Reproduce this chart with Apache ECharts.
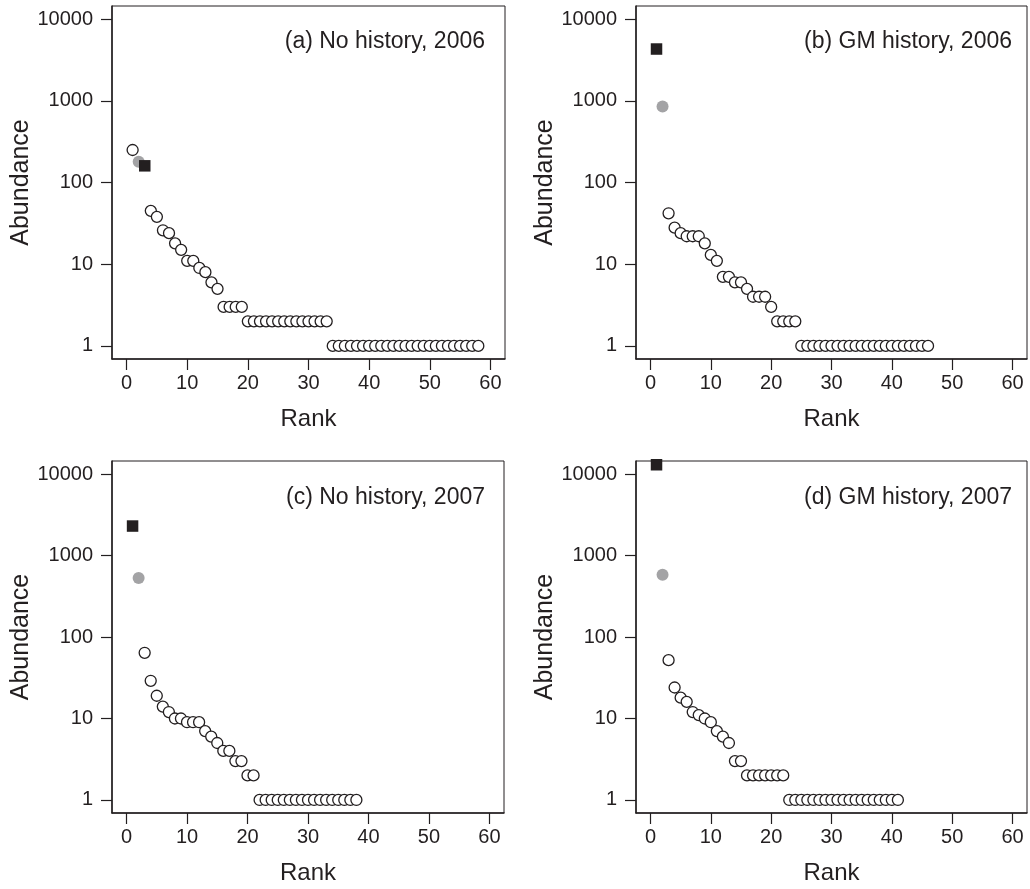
<!DOCTYPE html>
<html>
<head>
<meta charset="utf-8">
<script src="https://cdn.jsdelivr.net/npm/echarts@6/dist/echarts.min.js"></script>
<style>
html,body{margin:0;padding:0;background:#fff;}
#chart{width:1030px;height:889px;}
</style>
</head>
<body>
<div id="chart"></div>
<script>
// ---- data (abundance by rank, rank = position + 1) ----
const rankTicks = [0, 10, 20, 30, 40, 50, 60];
const abundanceTicks = [1, 10, 100, 1000, 10000];
const panelLabels = ['(a) No history, 2006', '(b) GM history, 2006', '(c) No history, 2007', '(d) GM history, 2007'];

const abundA = [250, 180, 160, 45, 38, 26, 24, 18, 15, 11, 11, 9, 8, 6, 5,
  3, 3, 3, 3,
  2, 2, 2, 2, 2, 2, 2, 2, 2, 2, 2, 2, 2, 2,
  1, 1, 1, 1, 1, 1, 1, 1, 1, 1, 1, 1, 1, 1, 1, 1, 1, 1, 1, 1, 1, 1, 1, 1, 1];
const abundB = [4300, 850, 42, 28, 24, 22, 22, 22, 18, 13, 11, 7, 7, 6, 6, 5, 4, 4, 4, 3,
  2, 2, 2, 2,
  1, 1, 1, 1, 1, 1, 1, 1, 1, 1, 1, 1, 1, 1, 1, 1, 1, 1, 1, 1, 1, 1];
const abundC = [2300, 530, 64, 29, 19, 14, 12, 10, 10, 9, 9, 9, 7, 6, 5, 4, 4, 3, 3, 2, 2,
  1, 1, 1, 1, 1, 1, 1, 1, 1, 1, 1, 1, 1, 1, 1, 1, 1];
const abundD = [13000, 580, 52, 24, 18, 16, 12, 11, 10, 9, 7, 6, 5, 3, 3,
  2, 2, 2, 2, 2, 2, 2,
  1, 1, 1, 1, 1, 1, 1, 1, 1, 1, 1, 1, 1, 1, 1, 1, 1, 1, 1];
// rank of the highlighted species in each panel
const squareRank = [3, 1, 1, 1];
const grayRank = [2, 2, 2, 2];

const panels = [abundA, abundB, abundC, abundD];

// ---- layout ----
const grids = [
  {left: 112, top: 6, width: 393, height: 353},
  {left: 636, top: 6, width: 391, height: 353},
  {left: 112, top: 461, width: 392, height: 352},
  {left: 636, top: 461, width: 391, height: 352}
];
const FONT = 'Liberation Sans, Arial, Helvetica, sans-serif';
const INK = '#231f20';

const option = {
  backgroundColor: '#fff',
  animation: false,
  textStyle: {fontFamily: FONT, color: INK},
  title: panelLabels.map((t, i) => ({
    text: t,
    right: i % 2 === 0 ? 545 : 18,
    top: i < 2 ? 30 : 486,
    padding: 0,
    textStyle: {fontFamily: FONT, fontSize: 23, fontWeight: 'normal', color: INK}
  })),
  grid: grids.map(g => Object.assign({show: true, borderColor: INK, borderWidth: 1, backgroundColor: 'transparent'}, g)),
  xAxis: grids.map((g, i) => ({
    type: 'value', gridIndex: i, min: -2.4, max: 62.4,
    name: 'Rank', nameLocation: 'middle', nameGap: 48,
    nameTextStyle: {fontFamily: FONT, fontSize: 24, color: INK},
    axisLine: {show: true, onZero: false, lineStyle: {color: INK, width: 1.5}},
    axisTick: {show: true, inside: false, length: 11, lineStyle: {color: INK, width: 1.2}, customValues: rankTicks},
    axisLabel: {fontFamily: FONT, fontSize: 20, color: INK, margin: 14, customValues: rankTicks},
    splitLine: {show: false}
  })),
  yAxis: grids.map((g, i) => ({
    type: 'log', logBase: 10, gridIndex: i, min: 0.6918, max: 14454,
    name: 'Abundance', nameLocation: 'middle', nameGap: 63,
    nameTextStyle: {fontFamily: FONT, fontSize: 25, color: INK},
    axisLine: {show: true, onZero: false, lineStyle: {color: INK, width: 1.5}},
    axisTick: {show: true, inside: false, length: 11, lineStyle: {color: INK, width: 1.2}, customValues: abundanceTicks},
    axisLabel: {fontFamily: FONT, fontSize: 20, color: INK, margin: 19, customValues: abundanceTicks,
      formatter: v => String(Math.round(v))},
    splitLine: {show: false}
  })),
  series: []
};

panels.forEach((arr, i) => {
  const open = [], gray = [], square = [];
  arr.forEach((v, k) => {
    const r = k + 1;
    if (r === squareRank[i]) square.push([r, v]);
    else if (r === grayRank[i]) gray.push([r, v]);
    else open.push([r, v]);
  });
  option.series.push({
    type: 'scatter', name: 'other species', xAxisIndex: i, yAxisIndex: i, data: open,
    symbol: 'circle', symbolSize: 11,
    itemStyle: {color: '#fff', borderColor: INK, borderWidth: 1.3, opacity: 1}
  });
  option.series.push({
    type: 'scatter', name: 'gray species', xAxisIndex: i, yAxisIndex: i, data: gray,
    symbol: 'circle', symbolSize: 12,
    itemStyle: {color: '#a3a3a5', opacity: 1}
  });
  option.series.push({
    type: 'scatter', name: 'black species', xAxisIndex: i, yAxisIndex: i, data: square,
    symbol: 'rect', symbolSize: 11.5,
    itemStyle: {color: INK, opacity: 1}
  });
});

const chart = echarts.init(document.getElementById('chart'), null, {renderer: 'canvas'});
chart.setOption(option);
</script>
</body>
</html>
